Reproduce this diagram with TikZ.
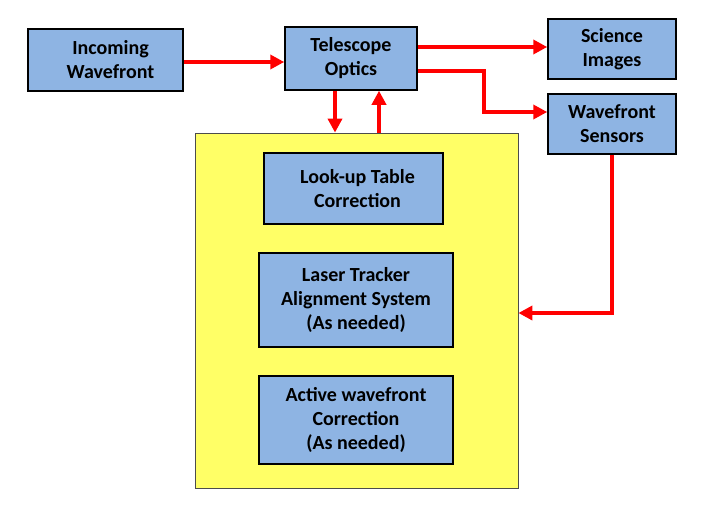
\documentclass[tikz,border=0pt]{standalone}
\usepackage{fontspec}
\setmainfont{Carlito}
\usetikzlibrary{arrows.meta,positioning}

\definecolor{boxblue}{HTML}{8EB4E3}
\definecolor{ctrlyellow}{HTML}{FFFF66}

\begin{document}
\begin{tikzpicture}[x=1pt, y=-1pt, line join=miter,
		block/.style={draw=black, line width=1.5pt, fill=boxblue, align=center, inner sep=0pt,
			font=\bfseries\fontsize{20}{24}\selectfont},
		flow/.style={draw=red, line width=4pt, -{Triangle[length=14pt,width=14pt]}}]
		
		\useasboundingbox (0,0) rectangle (725,511);
		
		% control loop box
		\node[draw=black!70, line width=0.8pt, fill=ctrlyellow, minimum width=323pt, minimum height=355pt] (ctrl) at (356.5,310.5) {};
		
		% top row
		\node[block, minimum width=155pt, minimum height=62pt] (inc) at (105.5,60) {\hspace*{10pt}Incoming\\\hspace*{10pt}Wavefront};
		\node[block, minimum width=132pt, minimum height=63pt] (tel) at (351,58.5) {Telescope\\Optics};
		\node[block, minimum width=128pt, minimum height=60pt] (sci) at (612,49) {Science\\Images};
		\node[block, minimum width=128pt, minimum height=60pt] (wfs) at (612,124) {Wavefront\\Sensors};
		
		% corrections inside the loop
		\node[block, minimum width=179pt, minimum height=71pt] (lut) at (353.5,188.5) {\hspace*{8pt}Look-up Table\\\hspace*{8pt}Correction};
		\node[block, minimum width=194pt, minimum height=94pt] (lts) at (356,300) {Laser Tracker\\Alignment System\\(As needed)};
		\node[block, minimum width=194pt, minimum height=88pt] (awc) at (356,420) {Active wavefront\\Correction\\(As needed)};
		
		% connectors
		\draw[flow] ([yshift=-2pt]inc.east) -- ([yshift=-2pt]inc.east -| tel.west);
		\draw[flow] ([yshift=11.5pt]tel.east) -- ([yshift=11.5pt]tel.east -| sci.west);
		\draw[flow] ([yshift=-12.5pt]tel.east) -- ++(66,0) |- ([yshift=12pt]wfs.west);
		\draw[flow] ([xshift=-16pt]tel.south) -- ([xshift=-16pt]tel.south |- ctrl.north);
		\draw[flow] ([xshift=28pt]tel.south |- ctrl.north) -- ([xshift=28pt]tel.south);
		\draw[flow] (wfs.south) |- ([yshift=-2.5pt]ctrl.east);
		
	\end{tikzpicture}
\end{document}
